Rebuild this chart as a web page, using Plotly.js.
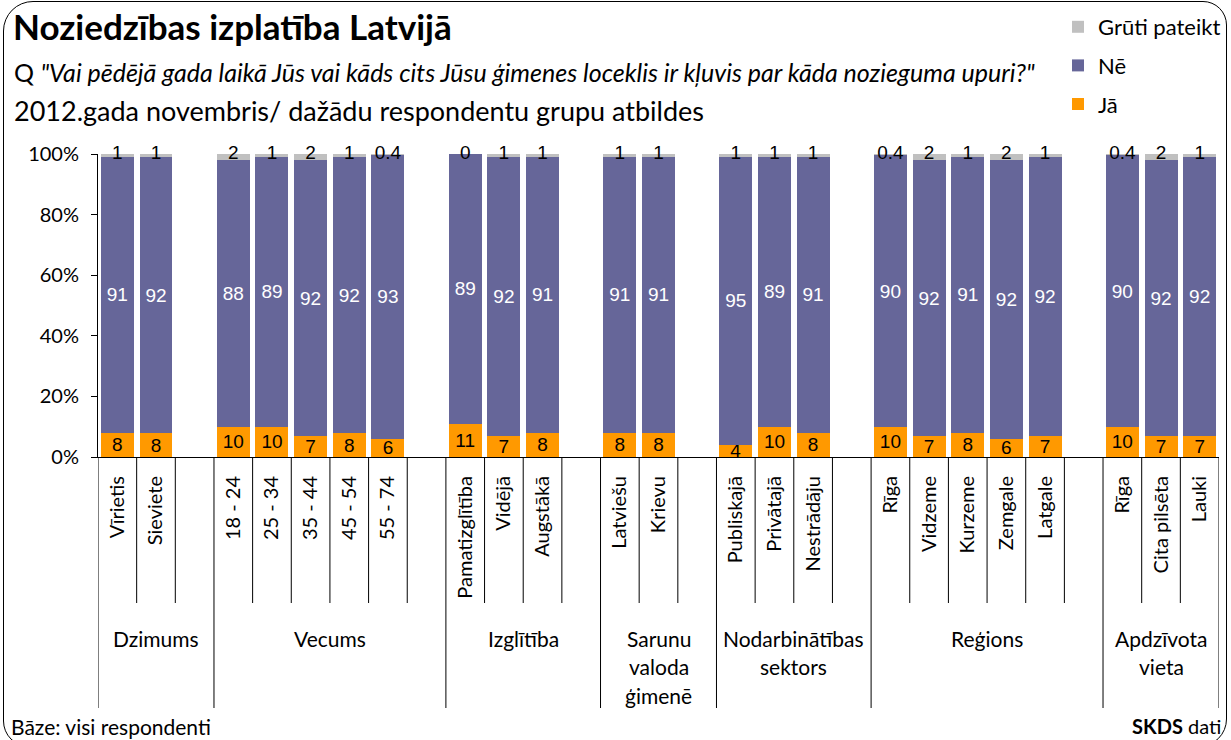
<!DOCTYPE html>
<html><head><meta charset="utf-8">
<script src="https://cdn.plot.ly/plotly-3.0.1.min.js"></script>
<style>
html,body{margin:0;padding:0;background:#fff;overflow:hidden;}
#chart{position:absolute;left:0;top:0;width:1231px;height:740px;}
#frame{position:absolute;left:3px;top:1px;width:1224px;height:746px;border:1.6px solid #000;border-radius:30px 24px 28px 26px;pointer-events:none;z-index:10;box-sizing:border-box;}
</style></head>
<body><div id="chart"></div><div id="frame"></div>
<script>
// ---- data ----
const groupLabels = [['Dzimums'], ['Vecums'], ['Izglītība'], ['Sarunu', 'valoda', 'ģimenē'], ['Nodarbinātības', 'sektors'], ['Reģions'], ['Apdzīvota', 'vieta']];
const groupSizes = [2, 5, 3, 2, 3, 5, 3];
const categories = ['Vīrietis', 'Sieviete', '18 - 24', '25 - 34', '35 - 44', '45 - 54', '55 - 74', 'Pamatizglītība', 'Vidējā', 'Augstākā', 'Latviešu', 'Krievu', 'Publiskajā', 'Privātajā', 'Nestrādāju', 'Rīga', 'Vidzeme', 'Kurzeme', 'Zemgale', 'Latgale', 'Rīga', 'Cita pilsēta', 'Lauki'];
const ja    = [8, 8, 10, 10, 7, 8, 6, 11, 7, 8, 8, 8, 4, 10, 8, 10, 7, 8, 6, 7, 10, 7, 7];
const ne    = [91, 92, 88, 89, 92, 92, 93, 89, 92, 91, 91, 91, 95, 89, 91, 90, 92, 91, 92, 92, 90, 92, 92];
const gruti = [1, 1, 2, 1, 2, 1, 0.4, 0, 1, 1, 1, 1, 1, 1, 1, 0.4, 2, 1, 2, 1, 0.4, 2, 1];
const yTicks = [0, 20, 40, 60, 80, 100];
const seriesNames = ['Jā', 'Nē', 'Grūti pateikt'];
const seriesColors = ['#FF9900', '#666699', '#C0C0C0'];

// ---- slot layout (one empty slot after each group except last) ----
const pos = [];
const groupStart = [], groupEnd = [];
let slot = 0;
groupSizes.forEach((n, g) => {
  groupStart.push(slot);
  for (let i = 0; i < n; i++) pos.push(slot++);
  if (g < groupSizes.length - 1) slot++;
  groupEnd.push(slot);
});
const nSlots = slot;

const PLOT_H = 303;
const LBL = 'Lato, "Open Sans", sans-serif';
const NUM = '"Liberation Sans Narrow", "Liberation Sans", Arial, sans-serif';

const barCommon = {type: 'bar', x: pos, textposition: 'inside', insidetextanchor: 'middle',
  constraintext: 'none', textangle: 0, hoverinfo: 'skip', marker: {line: {width: 0}}};

const traces = [
  Object.assign({}, barCommon, {name: seriesNames[0], y: ja, text: ja.map(String), legendgroup: 'a', legendrank: 3,
    marker: {color: seriesColors[0]}, insidetextfont: {family: NUM, size: 19, color: '#000'}}),
  Object.assign({}, barCommon, {name: seriesNames[1], y: ne, text: ne.map(String), legendgroup: 'b', legendrank: 2,
    marker: {color: seriesColors[1]}, insidetextfont: {family: NUM, size: 19, color: '#fff'}}),
  Object.assign({}, barCommon, {name: seriesNames[2], y: gruti, text: gruti.map(String), legendgroup: 'c', legendrank: 1,
    textposition: 'none', marker: {color: seriesColors[2]}}),
  {type: 'scatter', mode: 'text', x: pos, y: pos.map(() => 100), text: gruti.map(String),
   textposition: 'middle center', textfont: {family: NUM, size: 19, color: '#000'},
   showlegend: false, hoverinfo: 'skip', cliponaxis: false}
];

// ---- separator lines & group labels ----
const shapes = [];
const bounds = new Set(groupStart.concat(groupEnd));
for (let b = 0; b <= nSlots; b++) {
  const long = bounds.has(b);
  shapes.push({type: 'line', xref: 'x', yref: 'paper', x0: b - 0.5, x1: b - 0.5,
    y0: 0, y1: long ? -251 / PLOT_H : -146 / PLOT_H, line: {color: '#000', width: 1}});
}
const annotations = [];
groupLabels.forEach((lines, g) => {
  const cx = (groupStart[g] + groupEnd[g]) / 2 - 0.5;
  lines.forEach((t, k) => {
    annotations.push({xref: 'x', yref: 'paper', x: cx, y: -(181 + 28.5 * k) / PLOT_H,
      text: t, showarrow: false, xanchor: 'center', yanchor: 'middle',
      font: {family: LBL, size: 21, color: '#000'}});
  });
});
const W = 1121;
const px = v => (v - 98) / W;
const py = v => (457 - v) / PLOT_H;
annotations.push({xref: 'paper', yref: 'paper', x: px(12), y: py(72), xanchor: 'left', yanchor: 'middle', showarrow: false,
  text: 'Q <i>"Vai pēdējā gada laikā Jūs vai kāds cits Jūsu ģimenes loceklis ir kļuvis par kāda nozieguma upuri?"</i>',
  font: {family: LBL, size: 25, color: '#000'}});
annotations.push({xref: 'paper', yref: 'paper', x: px(12), y: py(111), xanchor: 'left', yanchor: 'middle', showarrow: false,
  text: '2012.gada novembris/ dažādu respondentu grupu atbildes', font: {family: LBL, size: 27, color: '#000'}});
annotations.push({xref: 'paper', yref: 'paper', x: px(9), y: py(726), xanchor: 'left', yanchor: 'middle', showarrow: false,
  text: 'Bāze: visi respondenti', font: {family: LBL, size: 21, color: '#000'}});
annotations.push({xref: 'paper', yref: 'paper', x: px(1223), y: py(726), xanchor: 'right', yanchor: 'middle', showarrow: false,
  text: '<b>SKDS</b> dati', font: {family: LBL, size: 20, color: '#000'}});

const layout = {
  width: 1231, height: 740,
  margin: {l: 98, r: 12, t: 154, b: 740 - 457, pad: 0, autoexpand: false},
  paper_bgcolor: '#fff', plot_bgcolor: '#fff',
  barmode: 'stack', barnorm: 'percent', bargap: 0.147,
  title: {text: 'Noziedzības izplatība Latvijā', xref: 'container', yref: 'container',
    x: 13 / 1231, xanchor: 'left', y: 1 - 28 / 740, yanchor: 'middle',
    font: {family: LBL, size: 35, weight: 700, color: '#000'}},
  xaxis: {range: [-0.5, nSlots - 0.5], tickmode: 'array', tickvals: pos, ticktext: categories,
    tickangle: -90, ticks: '', showgrid: false, zeroline: false, showline: true, linecolor: '#000', linewidth: 1,
    tickfont: {family: LBL, size: 20, color: '#000'}, ticklabelstandoff: 10, fixedrange: true, automargin: false},
  yaxis: {range: [0, 100], tickmode: 'array', tickvals: yTicks, ticktext: yTicks.map(v => v + '%'),
    ticks: 'outside', ticklen: 6, tickcolor: '#000', showgrid: false, zeroline: false,
    showline: true, linecolor: '#000', linewidth: 1,
    tickfont: {family: LBL, size: 20, color: '#000'}, ticklabelstandoff: 8, fixedrange: true, automargin: false},
  legend: {traceorder: 'grouped', xref: 'container', yref: 'container', x: 1058 / 1231, xanchor: 'left',
    y: 1 - 6 / 740, yanchor: 'top', tracegroupgap: 7, itemwidth: 30,
    font: {family: LBL, size: 22, color: '#000'}, bgcolor: 'rgba(0,0,0,0)'},
  shapes: shapes, annotations: annotations, showlegend: true
};

Plotly.newPlot('chart', traces, layout, {displayModeBar: false, staticPlot: true});
</script>
</body></html>
